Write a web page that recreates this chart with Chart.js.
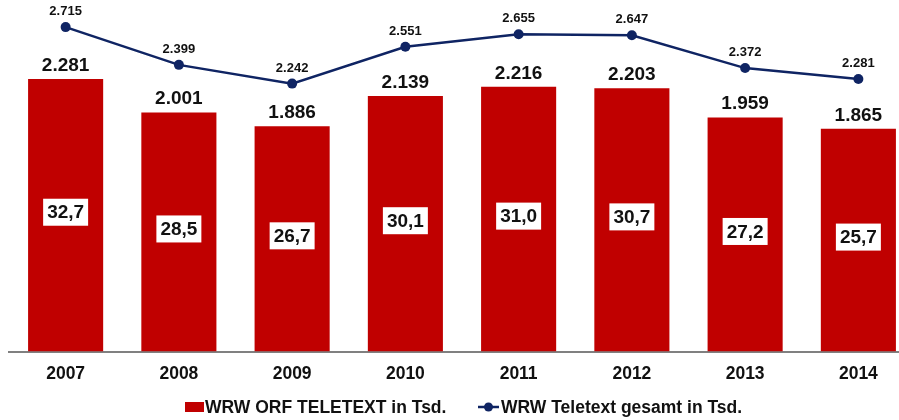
<!DOCTYPE html>
<html>
<head>
<meta charset="utf-8">
<script src="https://cdn.jsdelivr.net/npm/chart.js@4/dist/chart.umd.min.js"></script>
<style>
html,body{margin:0;padding:0;background:#fff;overflow:hidden;}
#wrap{width:920px;height:420px;}
</style>
</head>
<body>
<div id="wrap"><canvas id="c" width="920" height="420"></canvas></div>
<script>
const years = ['2007','2008','2009','2010','2011','2012','2013','2014'];
const orfValues = [2281, 2001, 1886, 2139, 2216, 2203, 1959, 1865];
const totalValues = [2715, 2399, 2242, 2551, 2655, 2647, 2372, 2281];
const shareLabels = ['32,7','28,5','26,7','30,1','31,0','30,7','27,2','25,7'];
const seriesNames = ['WRW ORF TELETEXT in Tsd.', 'WRW Teletext gesamt in Tsd.'];

const RED = '#C00000';
const NAVY = '#0F2463';
const FONT = '"Liberation Sans", Arial, sans-serif';

function fmt(v){ return String(v).replace(/\B(?=(\d{3})+(?!\d))/g, '.'); }

const labelPlugin = {
  id: 'labels',
  afterDatasetsDraw(chart){
    const ctx = chart.ctx;
    ctx.save();
    const barMeta = chart.getDatasetMeta(1);
    const lineMeta = chart.getDatasetMeta(0);
    barMeta.data.forEach((bar, i) => {
      ctx.font = 'bold 19px ' + FONT;
      ctx.fillStyle = '#111';
      ctx.textAlign = 'center';
      ctx.textBaseline = 'alphabetic';
      ctx.fillText(fmt(orfValues[i]), bar.x, bar.y - 8);
      const cy = (bar.y + bar.base) / 2 - 3;
      ctx.font = 'bold 19px ' + FONT;
      const w = ctx.measureText(shareLabels[i]).width + 8;
      const h = 27;
      ctx.fillStyle = '#fff';
      ctx.fillRect(bar.x - w/2, cy - h/2, w, h);
      ctx.fillStyle = '#111';
      ctx.textBaseline = 'middle';
      ctx.fillText(shareLabels[i], bar.x, cy + 1);
    });
    lineMeta.data.forEach((pt, i) => {
      ctx.font = 'bold 13px ' + FONT;
      ctx.fillStyle = '#111';
      ctx.textAlign = 'center';
      ctx.textBaseline = 'alphabetic';
      ctx.fillText(fmt(totalValues[i]), pt.x, pt.y - 12);
    });
    // legend
    const ly = 407;
    ctx.fillStyle = RED;
    ctx.fillRect(185, ly - 5, 19, 10);
    ctx.font = 'bold 17.5px ' + FONT;
    ctx.fillStyle = '#111';
    ctx.textAlign = 'left';
    ctx.textBaseline = 'middle';
    ctx.fillText(seriesNames[0], 205, ly + 1);
    ctx.strokeStyle = NAVY;
    ctx.lineWidth = 2.5;
    ctx.beginPath(); ctx.moveTo(478, ly); ctx.lineTo(499, ly); ctx.stroke();
    ctx.fillStyle = NAVY;
    ctx.beginPath(); ctx.arc(488.5, ly, 4.5, 0, Math.PI*2); ctx.fill();
    ctx.fillStyle = '#111';
    ctx.fillText(seriesNames[1], 501, ly + 1);
    ctx.restore();
  }
};

new Chart(document.getElementById('c'), {
  data: {
    labels: years,
    datasets: [
      {
        type: 'line',
        label: seriesNames[1],
        data: totalValues,
        borderColor: NAVY,
        backgroundColor: NAVY,
        borderWidth: 2.5,
        pointRadius: 5,
        pointBackgroundColor: NAVY,
        pointBorderWidth: 0,
        tension: 0,
        order: 0
      },
      {
        type: 'bar',
        label: seriesNames[0],
        data: orfValues,
        backgroundColor: RED,
        borderWidth: 0,
        categoryPercentage: 1,
        barPercentage: 0.663,
        order: 1
      }
    ]
  },
  options: {
    responsive: false,
    animation: false,
    layout: { padding: { left: 9, right: 2, top: 5, bottom: 23.5 } },
    plugins: { legend: { display: false }, tooltip: { enabled: false } },
    scales: {
      x: {
        grid: { display: false, drawTicks: false },
        border: { display: true, color: '#808080', width: 2 },
        ticks: { color: '#111', font: { family: FONT, weight: 'bold', size: 17.5 }, padding: 12 }
      },
      y: {
        display: false,
        min: 0,
        max: 2900
      }
    }
  },
  plugins: [labelPlugin]
});
</script>
</body>
</html>
